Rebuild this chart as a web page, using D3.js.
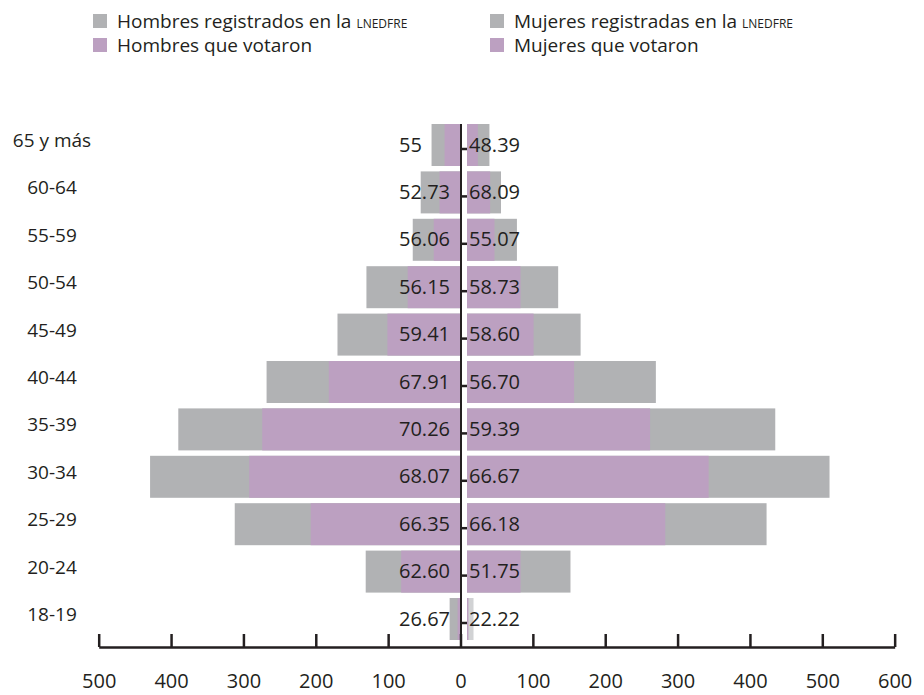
<!DOCTYPE html>
<html>
<head>
<meta charset="utf-8">
<script src="https://cdn.jsdelivr.net/npm/d3@7"></script>
<style>
  html, body { margin: 0; padding: 0; background: #fff; }
  svg { display: block; }
  text { font-family: "Open Sans", sans-serif; fill: #231f20; }
</style>
</head>
<body>
<script>
const categories = ["65 y más","60-64","55-59","50-54","45-49","40-44","35-39","30-34","25-29","20-24","18-19"];
const menRegistered   = [40, 55, 66, 130, 170, 268, 390, 429, 312, 131, 15];
const menVoted        = [22, 29, 37, 73, 101, 182, 274, 292, 207, 82, 4];
const womenRegistered = [31, 47, 69, 126, 157, 261, 426, 501, 414, 143, 9];
const womenVoted      = [15, 32, 38, 74, 92, 148, 253, 334, 274, 74, 2];
const menPctLabels    = ["55","52.73","56.06","56.15","59.41","67.91","70.26","68.07","66.35","62.60","26.67"];
const womenPctLabels  = ["48.39","68.09","55.07","58.73","58.60","56.70","59.39","66.67","66.18","51.75","22.22"];
const axisTicks = [-500,-400,-300,-200,-100,0,100,200,300,400,500,600];
const legendLabels = [
  ["Hombres registrados en la ", "LNEDFRE"],
  ["Mujeres registradas en la ", "LNEDFRE"],
  ["Hombres que votaron", ""],
  ["Mujeres que votaron", ""]
];

const W = 924, H = 695;
const GREY = "#b1b2b4", PURPLE = "#bca0c1", LIGHTGREY = "#d1d2d4", INK = "#231f20";

const svg = d3.select("body").append("svg").attr("width", W).attr("height", H);

const pxPerUnit = 0.7236;
const zeroL = 460.5, zeroR = 467;
const xLeft = d3.scaleLinear().domain([0, 500]).range([zeroL, zeroL - 500 * pxPerUnit]);
const xRight = d3.scaleLinear().domain([0, 500]).range([zeroR, zeroR + 500 * pxPerUnit]);
const xAxisScale = d3.scaleLinear().domain([-500, 600]).range([zeroL - 500 * pxPerUnit, zeroL + 600 * pxPerUnit]);

const y = d3.scaleBand().domain(categories).range([121.3, 642.7]).paddingInner(0.114).paddingOuter(0.057);
const bh = y.bandwidth();
const cy = c => y(c) + bh / 2;

const rows = categories.map((c, i) => ({
  c, i,
  mr: menRegistered[i], mv: menVoted[i],
  wr: womenRegistered[i], wv: womenVoted[i],
  mp: menPctLabels[i], wp: womenPctLabels[i]
}));

// Men registered (left)
svg.append("g").selectAll("rect").data(rows).join("rect")
  .attr("x", d => xLeft(d.mr)).attr("y", d => y(d.c))
  .attr("width", d => xLeft(0) - xLeft(d.mr)).attr("height", bh)
  .attr("fill", GREY);
// Men voted
svg.append("g").selectAll("rect").data(rows).join("rect")
  .attr("x", d => xLeft(d.mv)).attr("y", d => y(d.c))
  .attr("width", d => xLeft(0) - xLeft(d.mv)).attr("height", bh)
  .attr("fill", PURPLE);
// Women registered (right)
svg.append("g").selectAll("rect").data(rows).join("rect")
  .attr("x", xRight(0)).attr("y", d => y(d.c))
  .attr("width", d => xRight(d.wr) - xRight(0)).attr("height", bh)
  .attr("fill", d => d.c === "18-19" ? LIGHTGREY : GREY);
// Women voted
svg.append("g").selectAll("rect").data(rows).join("rect")
  .attr("x", xRight(0)).attr("y", d => y(d.c))
  .attr("width", d => xRight(d.wv) - xRight(0)).attr("height", bh)
  .attr("fill", PURPLE);

// Centre line and small ticks
svg.append("line")
  .attr("x1", 461).attr("x2", 461)
  .attr("y1", y(categories[0])).attr("y2", 647)
  .attr("stroke", INK).attr("stroke-width", 2);
svg.append("g").selectAll("line").data(rows).join("line")
  .attr("x1", 461).attr("x2", xRight(0))
  .attr("y1", d => cy(d.c) + 4).attr("y2", d => cy(d.c) + 4)
  .attr("stroke", INK).attr("stroke-width", 2.5);

// Percent labels (left ones start at a fixed x)
svg.append("g").selectAll("text").data(rows).join("text")
  .attr("x", 399).attr("y", d => cy(d.c) + 6.5)
  .attr("text-anchor", "start").attr("font-size", 20)
  .text(d => d.mp);
svg.append("g").selectAll("text").data(rows).join("text")
  .attr("x", 469).attr("y", d => cy(d.c) + 6.5)
  .attr("text-anchor", "start").attr("font-size", 20)
  .text(d => d.wp);

// Category labels
svg.append("g").selectAll("text").data(rows).join("text")
  .attr("x", 52).attr("y", d => cy(d.c) + 2)
  .attr("text-anchor", "middle").attr("font-size", 19)
  .text(d => d.c);

// Bottom axis
const axis = d3.axisBottom(xAxisScale)
  .tickValues(axisTicks)
  .tickFormat(d => Math.abs(d))
  .tickSizeInner(-13).tickSizeOuter(0).tickPadding(27);
const gAxis = svg.append("g").attr("transform", "translate(0,647)").call(axis);
gAxis.select(".domain").attr("stroke", INK).attr("stroke-width", 2.5);
gAxis.selectAll(".tick line").attr("stroke", INK).attr("stroke-width", 2.5);
gAxis.selectAll(".tick text")
  .attr("font-family", "'Open Sans', sans-serif").attr("font-size", 20).attr("fill", INK);

// Legend
const legendPos = [
  {x: 93, y: 21, color: GREY},
  {x: 490, y: 21, color: GREY},
  {x: 93, y: 45, color: PURPLE},
  {x: 490, y: 45, color: PURPLE}
];
const lg = svg.append("g");
legendLabels.forEach((lab, i) => {
  const p = legendPos[i];
  lg.append("rect").attr("x", p.x).attr("y", p.y - 7).attr("width", 14).attr("height", 14).attr("fill", p.color);
  const t = lg.append("text").attr("x", p.x + 24).attr("y", p.y + 7).attr("font-size", 19);
  t.append("tspan").text(lab[0]);
  if (lab[1]) t.append("tspan").attr("font-size", 12).text(lab[1]);
});
</script>
</body>
</html>
